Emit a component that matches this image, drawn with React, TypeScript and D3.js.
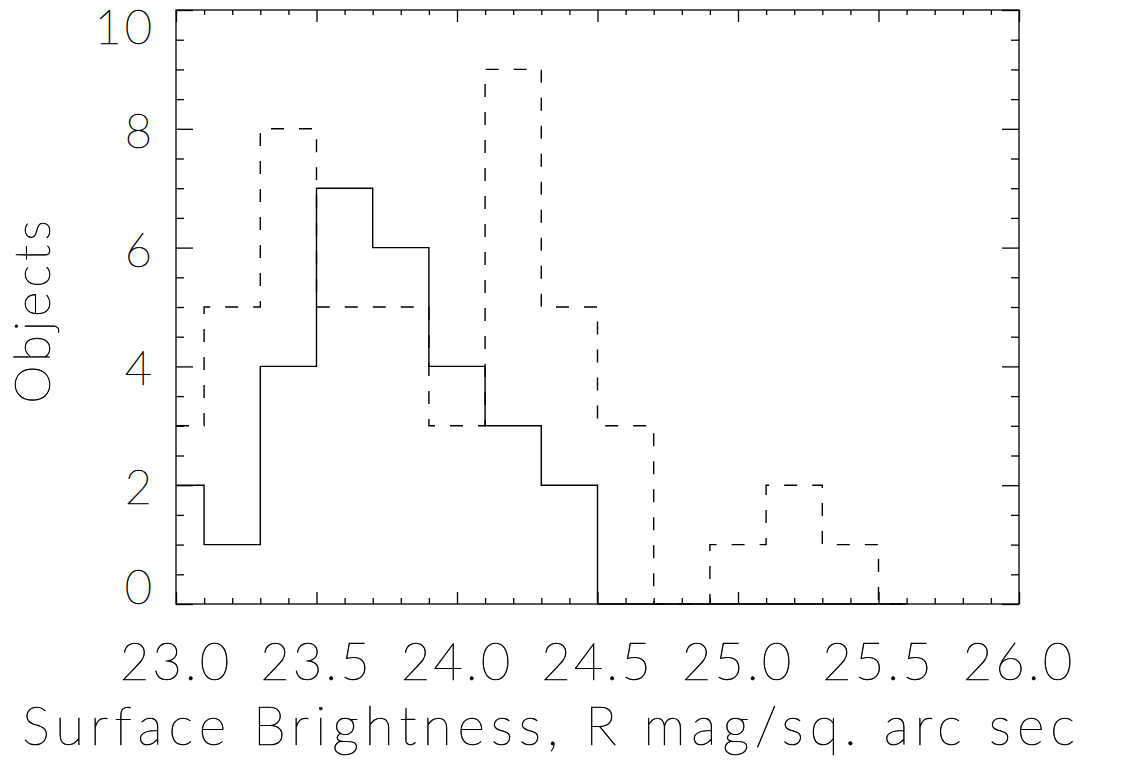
import React, { useEffect, useRef } from "react";
import * as d3 from "d3";

// histogram bin centres (IDL psym=10 style steps)
const binCenters = [23.0, 23.2, 23.4, 23.6, 23.8, 24.0, 24.2, 24.4, 24.6, 24.8, 25.0, 25.2, 25.4, 25.6];
const solidCounts = [2, 1, 4, 7, 6, 4, 3, 2, 0, 0, 0, 0, 0, 0];
const dashedCounts = [3, 5, 8, 5, 5, 3, 9, 5, 3, 0, 1, 2, 1, 0];

const xTicks = [23.0, 23.5, 24.0, 24.5, 25.0, 25.5, 26.0];
const xTickLabels = ["23.0", "23.5", "24.0", "24.5", "25.0", "25.5", "26.0"];
const yTicks = [0, 2, 4, 6, 8, 10];
const yTickLabels = ["0", "2", "4", "6", "8", "10"];

const xTitle = "Surface Brightness, R mag/sq. arc sec";
const yTitle = "Objects";

const W = 1131, H = 764;
const margin = { top: 10, right: 112, bottom: 160, left: 176 };
const FONT = "Lato, 'DejaVu Sans', sans-serif";

export default function App() {
  const ref = useRef<SVGSVGElement>(null);

  useEffect(() => {
    const svg = d3.select(ref.current);
    svg.selectAll("*").remove();

    const width = W - margin.left - margin.right;
    const height = H - margin.top - margin.bottom;
    const x = d3.scaleLinear().domain([23.0, 26.0]).range([margin.left, margin.left + width]);
    const y = d3.scaleLinear().domain([0, 10]).range([margin.top + height, margin.top]);
    const bottom = margin.top + height, top = margin.top;
    const left = margin.left, right = margin.left + width;

    const g = svg.append("g");
    const sw = 1.3;

    // thin single-stroke look: hairline face with a light outline
    const styleText = (sel: any, size: number) =>
      sel.attr("font-family", FONT).attr("font-weight", 100).attr("font-size", size)
        .attr("fill", "#000").attr("stroke", "#000").attr("stroke-width", 0.6);

    // minor ticks
    const xMinor = d3.range(23.0, 26.001, 0.1).filter(v => Math.abs(v * 2 - Math.round(v * 2)) > 1e-6);
    const yMinor = d3.range(0, 10.001, 0.5).filter(v => Math.abs(v / 2 - Math.round(v / 2)) > 1e-6);

    const drawAxis = (axis: any, tr: string) => {
      const a = g.append("g").attr("transform", tr).call(axis);
      a.select(".domain").remove();
      a.selectAll("line").attr("stroke", "#000").attr("stroke-width", sw);
      a.selectAll("text").remove();
    };

    drawAxis(d3.axisBottom(x).tickValues(xTicks).tickSize(-12).tickSizeOuter(0), `translate(0,${bottom})`);
    drawAxis(d3.axisBottom(x).tickValues(xMinor).tickSize(-6).tickSizeOuter(0), `translate(0,${bottom})`);
    drawAxis(d3.axisTop(x).tickValues(xTicks).tickSize(-12).tickSizeOuter(0), `translate(0,${top})`);
    drawAxis(d3.axisTop(x).tickValues(xMinor).tickSize(-5).tickSizeOuter(0), `translate(0,${top})`);
    drawAxis(d3.axisLeft(y).tickValues(yTicks).tickSize(-17).tickSizeOuter(0), `translate(${left},0)`);
    drawAxis(d3.axisLeft(y).tickValues(yMinor).tickSize(-8).tickSizeOuter(0), `translate(${left},0)`);
    drawAxis(d3.axisRight(y).tickValues(yTicks).tickSize(-17).tickSizeOuter(0), `translate(${right},0)`);
    drawAxis(d3.axisRight(y).tickValues(yMinor).tickSize(-8).tickSizeOuter(0), `translate(${right},0)`);

    // frame
    g.append("rect")
      .attr("x", left).attr("y", top)
      .attr("width", width).attr("height", height)
      .attr("fill", "none").attr("stroke", "#000").attr("stroke-width", sw);

    // histograms
    const line = d3.line<[number, number]>()
      .x(d => x(d[0]))
      .y(d => y(d[1]))
      .curve(d3.curveStep);

    g.append("path")
      .datum(binCenters.map((c, i) => [c, solidCounts[i]] as [number, number]))
      .attr("fill", "none")
      .attr("stroke", "#000")
      .attr("stroke-width", 1.4)
      .attr("d", line);

    g.append("path")
      .datum(binCenters.map((c, i) => [c, dashedCounts[i]] as [number, number]))
      .attr("fill", "none")
      .attr("stroke", "#000")
      .attr("stroke-width", 1.4)
      .attr("stroke-dasharray", "13,15")
      .attr("d", line);

    // tick labels
    g.selectAll(".xl").data(xTicks).enter().append("text")
      .attr("x", d => x(d)).attr("y", bottom + 76)
      .attr("text-anchor", "middle")
      .attr("letter-spacing", 3)
      .call(styleText, 51)
      .text((d, i) => xTickLabels[i]);

    const capH = 34;
    g.selectAll(".yl").data(yTicks).enter().append("text")
      .attr("x", left - 21)
      .attr("y", d => {
        const c = Math.max(top + capH / 2, Math.min(bottom - capH / 2, y(d) + 2));
        return c + capH / 2;
      })
      .attr("text-anchor", "end")
      .attr("letter-spacing", 3)
      .call(styleText, 47)
      .text((d, i) => yTickLabels[i]);

    // titles
    g.append("text")
      .attr("x", 22).attr("y", 745)
      .attr("textLength", 1053).attr("lengthAdjust", "spacing")
      .call(styleText, 53)
      .text(xTitle);

    g.append("text")
      .attr("transform", `translate(50,${(top + bottom) / 2 + 3}) rotate(-90)`)
      .attr("text-anchor", "middle")
      .attr("letter-spacing", 4)
      .call(styleText, 49)
      .text(yTitle);
  }, []);

  return (
    <svg ref={ref} width={W} height={H}
      style={{ position: "absolute", left: 0, top: 0, background: "#fff" }} />
  );
}
